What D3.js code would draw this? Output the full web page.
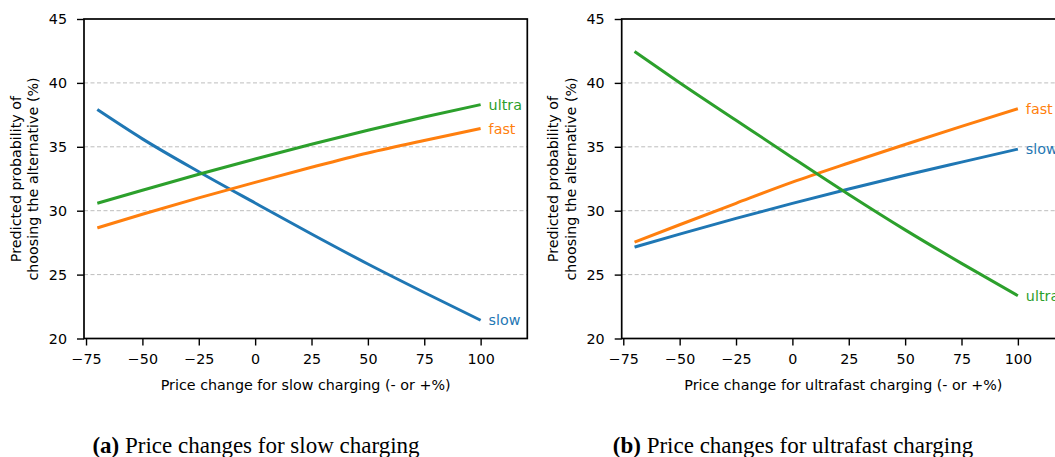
<!DOCTYPE html>
<html>
<head>
<meta charset="utf-8">
<script src="https://cdn.jsdelivr.net/npm/d3@7"></script>
<style>
  html, body { margin: 0; padding: 0; background: #fff; }
  svg { display: block; }
</style>
</head>
<body>
<svg id="chart" width="1055" height="457"></svg>
<script>
// ---- data ----
const xValues = [-70, -50, -25, 0, 25, 50, 75, 100];

// Panel (a): price changes for slow charging
const slowA  = [37.91, 35.62, 33.05, 30.60, 28.18, 25.83, 23.60, 21.43];
const fastA  = [28.66, 29.72, 31.00, 32.22, 33.40, 34.52, 35.50, 36.43];
const ultraA = [30.58, 31.60, 32.85, 34.04, 35.20, 36.30, 37.33, 38.30];

// Panel (b): price changes for ultrafast charging
const slowB  = [27.15, 28.17, 29.40, 30.57, 31.70, 32.77, 33.80, 34.82];
const fastB  = [27.54, 28.90, 30.58, 32.23, 33.73, 35.18, 36.60, 37.98];
const ultraB = [42.46, 40.02, 37.08, 34.15, 31.27, 28.50, 25.88, 23.35];

const seriesNames = ["slow", "fast", "ultra"];
const seriesColors = ["#1f77b4", "#ff7f0e", "#2ca02c"];

const xTicks = [-75, -50, -25, 0, 25, 50, 75, 100];
const yTicks = [20, 25, 30, 35, 40, 45];
const gridValues = [25, 30, 35, 40];

const yLabelLines = ["Predicted probability of", "choosing the alternative (%)"];
const xLabelA = "Price change for slow charging (- or +%)";
const xLabelB = "Price change for ultrafast charging (- or +%)";
const captionTagA = "(a)", captionTextA = " Price changes for slow charging";
const captionTagB = "(b)", captionTextB = " Price changes for ultrafast charging";

// ---- drawing ----
const svg = d3.select("#chart");
const SANS = "'DejaVu Sans', sans-serif";
const FS = 14.3;

function drawPanel(cfg) {
  const x = d3.scaleLinear().domain(cfg.xDomain).range(cfg.xRange);
  const y = d3.scaleLinear().domain([20, 45]).range([338.5, 19]);
  const g = svg.append("g");

  // grid
  g.selectAll("line.grid").data(gridValues).enter().append("line")
    .attr("x1", cfg.xRange[0]).attr("x2", cfg.xRange[1])
    .attr("y1", d => y(d)).attr("y2", d => y(d))
    .attr("stroke", "#bdbdbd").attr("stroke-width", 1)
    .attr("stroke-dasharray", "4,2.5");

  // lines
  const line = d3.line().x((d, i) => x(xValues[i])).y(d => y(d)).curve(d3.curveMonotoneX);
  cfg.series.forEach((vals, k) => {
    g.append("path").datum(vals)
      .attr("d", line)
      .attr("fill", "none")
      .attr("stroke", seriesColors[k])
      .attr("stroke-width", 3);
    g.append("text")
      .attr("x", x(xValues[xValues.length - 1]) + 8)
      .attr("y", y(vals[vals.length - 1]))
      .attr("dominant-baseline", "central")
      .attr("font-family", SANS).attr("font-size", FS)
      .attr("fill", seriesColors[k])
      .text(seriesNames[k]);
  });

  // axes
  const xAxis = d3.axisBottom(x).tickValues(xTicks).tickSize(7).tickPadding(8)
    .tickFormat(d3.format("d"));
  const gx = g.append("g").attr("transform", `translate(0,${y(20)})`).call(xAxis);
  const yAxis = d3.axisLeft(y).tickValues(yTicks).tickSize(7).tickPadding(10)
    .tickFormat(d3.format("d"));
  const gy = g.append("g").attr("transform", `translate(${cfg.xRange[0]},0)`).call(yAxis);
  [gx, gy].forEach(ax => {
    ax.select(".domain").remove();
    ax.selectAll(".tick line").attr("stroke", "#000").attr("stroke-width", 1.4);
    ax.selectAll(".tick text").attr("font-family", SANS).attr("font-size", FS).attr("fill", "#000");
  });

  // frame
  g.append("rect")
    .attr("x", cfg.xRange[0]).attr("y", y(45))
    .attr("width", cfg.xRange[1] - cfg.xRange[0]).attr("height", y(20) - y(45))
    .attr("fill", "none").attr("stroke", "#000").attr("stroke-width", 1.7);

  // x label
  g.append("text")
    .attr("x", (cfg.xRange[0] + cfg.xRange[1]) / 2).attr("y", 390)
    .attr("text-anchor", "middle")
    .attr("font-family", SANS).attr("font-size", FS)
    .text(cfg.xLabel);

  // y label
  yLabelLines.forEach((t, i) => {
    g.append("text")
      .attr("transform", `translate(${cfg.xRange[0] - 68.5 + i * 17.5},179) rotate(-90)`)
      .attr("text-anchor", "middle").attr("dominant-baseline", "central")
      .attr("font-family", SANS).attr("font-size", FS)
      .text(t);
  });

  // caption
  const cap = g.append("text")
    .attr("x", cfg.captionX).attr("y", 453)
    .attr("text-anchor", "middle")
    .attr("font-family", "'Liberation Serif', serif").attr("font-size", 23);
  cap.append("tspan").attr("font-weight", "bold").text(cfg.captionTag);
  cap.append("tspan").text(cfg.captionText);
}

drawPanel({
  xDomain: [-75.9, 120.7], xRange: [84, 527.3],
  series: [slowA, fastA, ultraA], xLabel: xLabelA,
  captionX: 256, captionTag: captionTagA, captionText: captionTextA
});
drawPanel({
  xDomain: [-75.7, 120.9], xRange: [621.7, 1065],
  series: [slowB, fastB, ultraB], xLabel: xLabelB,
  captionX: 793, captionTag: captionTagB, captionText: captionTextB
});
</script>
</body>
</html>
